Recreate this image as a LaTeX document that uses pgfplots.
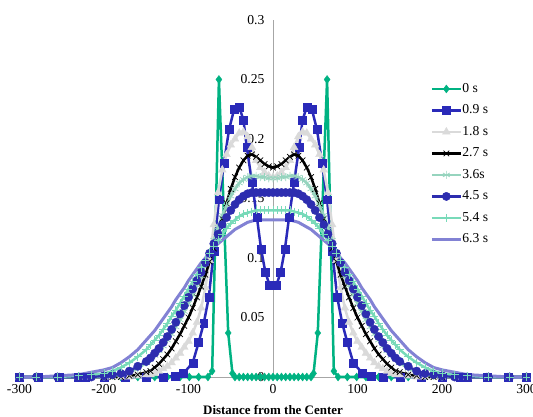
\documentclass[border=0pt]{standalone}
\usepackage{fontspec}
\setmainfont{Liberation Serif}
\usepackage{pgfplots}
\usepackage{pgfplotstable}
\pgfplotsset{compat=1.18}
\definecolor{cA}{RGB}{0,178,130}
\definecolor{cB}{RGB}{42,42,185}
\definecolor{cC}{RGB}{218,218,218}
\definecolor{cD}{RGB}{0,0,0}
\definecolor{cE}{RGB}{150,212,190}
\definecolor{cF}{RGB}{45,45,175}
\definecolor{cG}{RGB}{120,218,185}
\definecolor{cH}{RGB}{130,130,212}

\pgfplotstableread{
x a b c d e f
-300 0 0 0 0 0 0
-280 0 0 0 0 0 0
-255 0 0 0 0 0 0.001
-230 0 0 0 0 0.001 0.002
-215 0 0 0 0 0.002 0.004
-200 0 0 0 0.001 0.003 0.006
-190 0 0 0.001 0.002 0.005 0.008
-180 0 0 0.002 0.003 0.008 0.012
-170 0 0.001 0.004 0.005 0.012 0.017
-160 0.001 0.002 0.007 0.009 0.017 0.023
-150 0.002 0.004 0.012 0.013 0.023 0.031
-145 0.002 0.005 0.015 0.016 0.027 0.035
-140 0.003 0.008 0.018 0.020 0.031 0.039
-135 0.005 0.011 0.022 0.024 0.035 0.044
-130 0.007 0.015 0.026 0.029 0.040 0.049
-125 0.009 0.019 0.031 0.034 0.045 0.054
-120 0.012 0.024 0.036 0.040 0.051 0.059
-115 0.016 0.030 0.042 0.046 0.056 0.065
-110 0.020 0.036 0.048 0.053 0.062 0.070
-105 0.025 0.043 0.055 0.060 0.068 0.075
-100 0.030 0.050 0.062 0.067 0.074 0.081
-95 0.037 0.058 0.069 0.074 0.080 0.086
-90 0.046 0.067 0.077 0.081 0.086 0.091
-85 0.058 0.076 0.085 0.088 0.092 0.096
-80 0.075 0.086 0.095 0.096 0.098 0.100
-75 0.098 0.097 0.105 0.104 0.104 0.105
-70 0.128 0.108 0.115 0.112 0.110 0.109
-65 0.155 0.120 0.126 0.120 0.115 0.112
-60 0.174 0.133 0.136 0.128 0.120 0.115
-55 0.187 0.146 0.144 0.134 0.125 0.118
-50 0.195 0.158 0.152 0.140 0.129 0.121
-45 0.200 0.168 0.158 0.145 0.132 0.124
-40 0.205 0.176 0.163 0.149 0.135 0.126
-35 0.206 0.182 0.166 0.152 0.137 0.128
-30 0.202 0.186 0.168 0.154 0.138 0.130
-25 0.193 0.187 0.169 0.155 0.139 0.131
-20 0.182 0.185 0.169 0.155 0.140 0.132
-15 0.176 0.182 0.168 0.155 0.140 0.132
-10 0.172 0.179 0.168 0.155 0.140 0.132
-5 0.169 0.177 0.167 0.155 0.140 0.132
0 0.168 0.176 0.167 0.155 0.140 0.132
5 0.169 0.177 0.167 0.155 0.140 0.132
10 0.172 0.179 0.168 0.155 0.140 0.132
15 0.176 0.182 0.168 0.155 0.140 0.132
20 0.182 0.185 0.169 0.155 0.140 0.132
25 0.193 0.187 0.169 0.155 0.139 0.131
30 0.202 0.186 0.168 0.154 0.138 0.130
35 0.206 0.182 0.166 0.152 0.137 0.128
40 0.205 0.176 0.163 0.149 0.135 0.126
45 0.200 0.168 0.158 0.145 0.132 0.124
50 0.195 0.158 0.152 0.140 0.129 0.121
55 0.187 0.146 0.144 0.134 0.125 0.118
60 0.174 0.133 0.136 0.128 0.120 0.115
65 0.155 0.120 0.126 0.120 0.115 0.112
70 0.128 0.108 0.115 0.112 0.110 0.109
75 0.098 0.097 0.105 0.104 0.104 0.105
80 0.075 0.086 0.095 0.096 0.098 0.100
85 0.058 0.076 0.085 0.088 0.092 0.096
90 0.046 0.067 0.077 0.081 0.086 0.091
95 0.037 0.058 0.069 0.074 0.080 0.086
100 0.030 0.050 0.062 0.067 0.074 0.081
105 0.025 0.043 0.055 0.060 0.068 0.075
110 0.020 0.036 0.048 0.053 0.062 0.070
115 0.016 0.030 0.042 0.046 0.056 0.065
120 0.012 0.024 0.036 0.040 0.051 0.059
125 0.009 0.019 0.031 0.034 0.045 0.054
130 0.007 0.015 0.026 0.029 0.040 0.049
135 0.005 0.011 0.022 0.024 0.035 0.044
140 0.003 0.008 0.018 0.020 0.031 0.039
145 0.002 0.005 0.015 0.016 0.027 0.035
150 0.002 0.004 0.012 0.013 0.023 0.031
160 0.001 0.002 0.007 0.009 0.017 0.023
170 0 0.001 0.004 0.005 0.012 0.017
180 0 0 0.002 0.003 0.008 0.012
190 0 0 0.001 0.002 0.005 0.008
200 0 0 0 0.001 0.003 0.006
215 0 0 0 0 0.002 0.004
230 0 0 0 0 0.001 0.002
255 0 0 0 0 0 0.001
280 0 0 0 0 0 0
300 0 0 0 0 0 0
}\prof

\begin{document}
\begin{tikzpicture}
\begin{axis}[
  width=507bp, height=357bp, scale only axis,
  xmin=-300, xmax=300, ymin=0, ymax=0.3,
  axis x line*=bottom, axis y line*=center,
  axis line style={draw=black!35, line width=0.8bp},
  hide obscured x ticks=false, hide obscured y ticks=false,
  major tick length=0,
  xtick={-300,-200,-100,0,100,200,300},
  xticklabels={\mbox{-300},\mbox{-200},\mbox{-100},\mbox{0},\mbox{100},\mbox{200},\mbox{300}},
  ytick={0,0.05,0.1,0.15,0.2,0.25,0.3},
  yticklabels={\mbox{0},\mbox{0.05},\mbox{0.1},\mbox{0.15},\mbox{0.2},\mbox{0.25},\mbox{0.3}},
  tick label style={font=\fontsize{13.7}{16}\selectfont},
  xticklabel style={yshift=-4bp},
  yticklabel style={xshift=-5bp},
  xlabel={Distance from the Center},
  xlabel style={font=\fontsize{13}{15}\selectfont\bfseries, at={(axis description cs:0.5,0)}, anchor=north, yshift=-25bp},
  clip=false,
  legend style={at={(0.81,0.825)}, anchor=north west, draw=none, fill=none,
    row sep=9bp, inner sep=0pt,
    nodes={inner sep=0bp, text height=9.5bp, text depth=3bp, font=\fontsize{13.7}{16}\selectfont}},
  legend cell align=left,
  legend image code/.code={\draw[mark repeat=2,mark phase=2] plot coordinates {(0bp,0bp) (14.5bp,0bp) (29bp,0bp)};},
  every axis plot/.append style={line width=2.5bp},
]
\addplot[color=cA, mark=diamond*, mark size=4, mark options={solid, fill=cA, line width=0.4bp}] coordinates {
(-300,0) (-278,0) (-253,0) (-230,0) (-200,0) (-180,0) (-160,0) (-140,0) (-125,0) (-110,0) (-99,0) (-88,0) (-77,0)
(-72,0.005) (-64,0.25) (-53,0.037) (-48,0.003)
(-45,0) (-40,0) (-35,0) (-30,0) (-25,0) (-20,0) (-15,0) (-10,0) (-5,0) (0,0) (5,0) (10,0) (15,0) (20,0) (25,0) (30,0) (35,0) (40,0) (45,0)
(48,0.003) (53,0.037) (64,0.25) (72,0.005)
(77,0) (88,0) (99,0) (110,0) (125,0) (140,0) (160,0) (180,0) (200,0) (230,0) (253,0) (278,0) (300,0)
};
\addlegendentry{0 s}
\addplot[color=cB, mark=square*, mark size=4, mark options={solid, fill=cB, line width=0.4bp}] coordinates {
(-300,0) (-278,0) (-253,0) (-230,0) (-222,0) (-200,0) (-175,0) (-150,0) (-130,0) (-116,0.001) (-106,0.003)
(-95,0.012) (-88,0.029) (-82,0.045) (-76,0.067) (-70,0.106) (-64,0.149) (-58,0.180) (-52,0.208) (-46,0.225)
(-40,0.227) (-35,0.216) (-31,0.193) (-25,0.164) (-19,0.134) (-14,0.107) (-9,0.088) (-4,0.077)
(4,0.077) (9,0.088) (14,0.107) (19,0.134) (25,0.164) (31,0.193) (35,0.216) (40,0.227)
(46,0.225) (52,0.208) (58,0.180) (64,0.149) (70,0.106) (76,0.067) (82,0.045) (88,0.029) (95,0.012)
(106,0.003) (116,0.001) (130,0) (150,0) (175,0) (200,0) (222,0) (230,0) (253,0) (278,0) (300,0)
};
\addlegendentry{0.9 s}
\addplot[color=cC, mark=triangle*, mark size=4.5, mark options={solid, fill=cC, line width=0.4bp}] table[x=x, y=a] {\prof};
\addlegendentry{1.8 s}
\addplot[color=cD, mark=x, mark size=4, mark options={solid, line width=0.7bp}] table[x=x, y=b] {\prof};
\addlegendentry{2.7 s}
\addplot[color=cE, mark=asterisk, mark size=4, mark options={solid, line width=0.7bp}] table[x=x, y=c] {\prof};
\addlegendentry{3.6s}
\addplot[color=cF, mark=*, mark size=4.2, mark options={solid, fill=cF, line width=0.4bp}] table[x=x, y=d] {\prof};
\addlegendentry{4.5 s}
\addplot[color=cG, mark=+, mark size=4, mark options={solid, line width=0.8bp}] table[x=x, y=e] {\prof};
\addlegendentry{5.4 s}
\addplot[color=cH, no marks, line width=3bp] table[x=x, y=f] {\prof};
\addlegendentry{6.3 s}
\end{axis}
\pgfresetboundingbox
\path (-19.5bp,-40bp) rectangle (513.5bp,377bp);
\end{tikzpicture}
\end{document}
